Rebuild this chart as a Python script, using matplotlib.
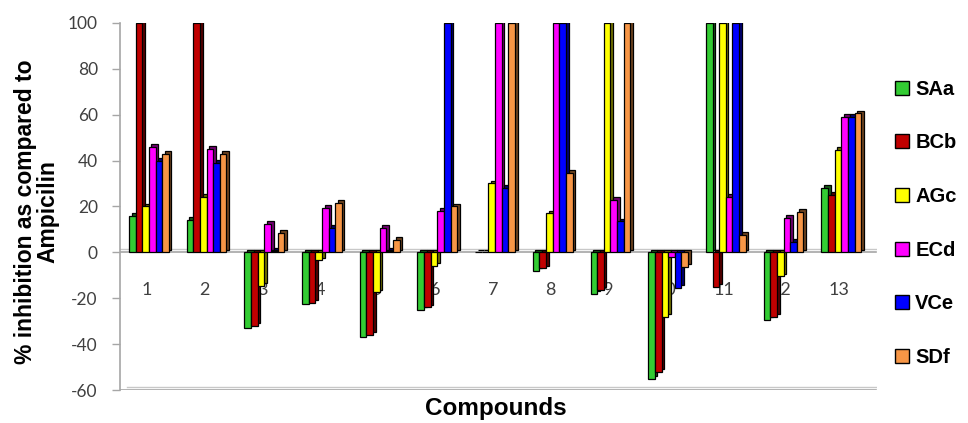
import matplotlib.pyplot as plt
from matplotlib.patches import Patch
from matplotlib.colors import to_rgb

plt.rcParams["axes.unicode_minus"] = False

compounds = ["1", "2", "3", "4", "5", "6", "7", "8", "9", "10", "11", "12", "13"]

saa = [16, 14, -33, -22.5, -37, -25, 0, -8, -18, -55, 100, -29.5, 28]
bcb = [100, 100, -32, -22, -36, -24, 0, -7, -16.5, -52, -15, -28, 25]
agc = [20, 24, -14.5, -3.5, -17.5, -6, 30, 17, 100, -28, 100, -10.5, 44.5]
ecd = [46, 45, 12.5, 19.5, 10.5, 18, 100, 100, 23, -2, 24, 15, 59]
vce = [40, 39, 0.5, 10.5, 0.5, 100, 28, 100, 13.5, -15.5, 100, 4.5, 59]
sdf = [43, 43, 8.5, 21.5, 5.5, 20, 100, 34.5, 100, -6.5, 7.5, 17.5, 60.5]

series = [
    ("SAa", saa, "#33CC33"),
    ("BCb", bcb, "#C00000"),
    ("AGc", agc, "#FFFF00"),
    ("ECd", ecd, "#FF00FF"),
    ("VCe", vce, "#0000FF"),
    ("SDf", sdf, "#F79646"),
]


def darker(c, f=0.45):
    r, g, b = to_rgb(c)
    return (r * f, g * f, b * f)


fig = plt.figure(figsize=(9.68, 4.23), dpi=100)
ax = fig.add_axes([0.124, 0.078, 0.782, 0.868])

x = list(range(1, len(compounds) + 1))
width = 0.115
dx, dy = 0.045, 1.2  # pseudo 3D depth of each bar

for i, (name, vals, col) in enumerate(series):
    pos = [xi + (i - 2.5) * width for xi in x]
    # side/top faces, drawn behind the front faces
    ax.bar([p + dx for p in pos], vals, width=width, bottom=dy,
           color=darker(col), edgecolor="black", linewidth=0.9, zorder=2)
    ax.bar(pos, vals, width=width, color=col, edgecolor="black",
           linewidth=0.9, zorder=3)

# category labels sit inside the plot, under the bars
for xi, lab in zip(x, compounds):
    ax.text(xi - 0.04, -16.5, lab, ha="center", va="center", fontsize=13,
            color="#404040", family="Lato", zorder=1)

# floor lines of the 3D frame
ax.plot([0.5, 13.6], [0, 0], color="#a6a6a6", lw=1.2, zorder=1)
ax.plot([0.5, 13.6], [1.4, 1.4], color="#c8c8c8", lw=1.0, zorder=1)
ax.plot([0.5, 13.6], [-60, -60], color="#a6a6a6", lw=1.2, zorder=1)
ax.plot([0.62, 13.6], [-58.6, -58.6], color="#c8c8c8", lw=1.0, zorder=1)

ax.set_xlim(0.5, 13.62)
ax.set_ylim(-60, 100)
ax.set_xticks([])
ax.set_yticks(range(-60, 101, 20))
ax.tick_params(axis="y", length=6, width=1, color="#a6a6a6", labelsize=12.5,
               labelcolor="#404040", pad=10)
for t in ax.get_yticklabels():
    t.set_family("Lato")

for s in ["top", "right", "bottom"]:
    ax.spines[s].set_visible(False)
ax.spines["left"].set_color("#a6a6a6")
ax.spines["left"].set_linewidth(1.2)

fig.text(0.038, 0.5, "% inhibition as compared to\nAmpicilin", rotation=90,
         ha="center", va="center", fontsize=16.5, fontweight="bold",
         family="Liberation Sans", linespacing=0.95)
fig.text(0.512, 0.035, "Compounds", ha="center", va="center", fontsize=17.5,
         fontweight="bold", family="Liberation Sans")

handles = [Patch(facecolor=c, edgecolor="black", linewidth=1.0, label=n)
           for n, _, c in series]
fig.legend(handles=handles, loc="center left", bbox_to_anchor=(0.906, 0.472),
           frameon=False, handlelength=0.7, handleheight=0.7,
           handletextpad=0.3, labelspacing=1.72,
           prop={"family": "Liberation Sans", "weight": "bold", "size": 14.5})

fig.savefig("out.png", dpi=100)
